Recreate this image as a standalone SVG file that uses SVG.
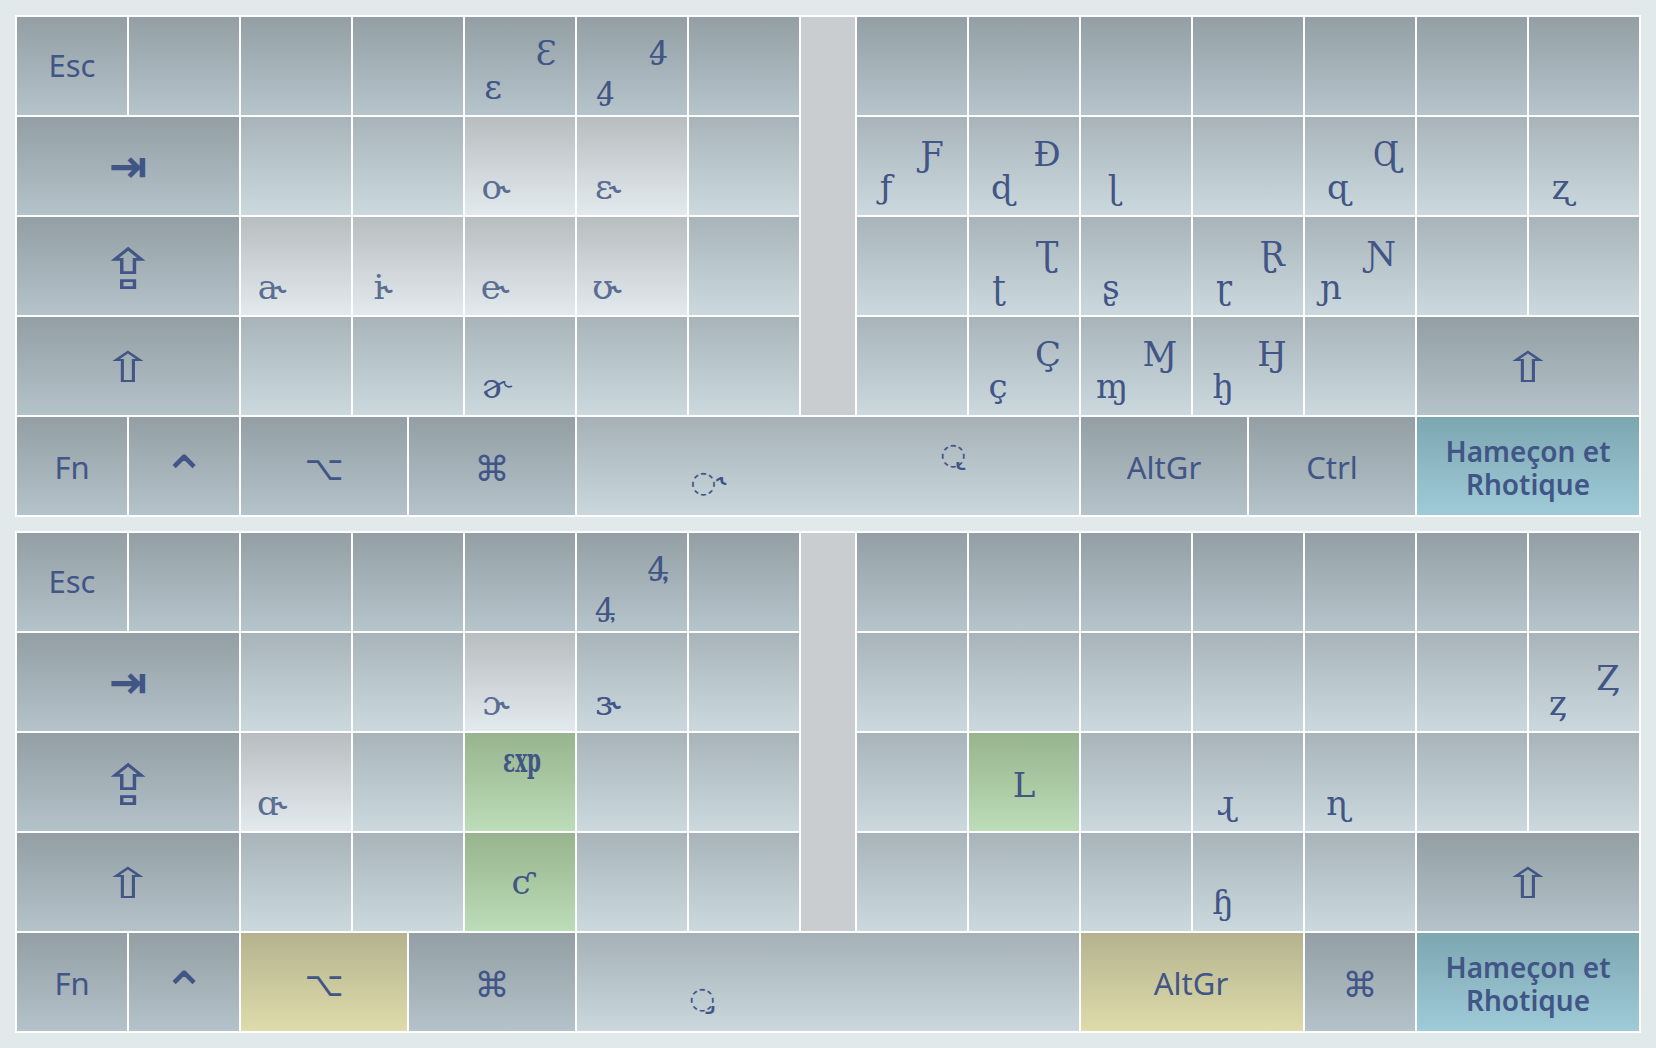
<svg xmlns="http://www.w3.org/2000/svg" width="1656" height="1048" viewBox="0 0 1656 1048">
<defs>
<linearGradient id="gMod" x1="0" y1="0" x2="0" y2="1"><stop offset="0" stop-color="#939fa5"/><stop offset="1" stop-color="#b4c2c9"/></linearGradient>
<linearGradient id="gRow1" x1="0" y1="0" x2="0" y2="1"><stop offset="0" stop-color="#939fa5"/><stop offset="1" stop-color="#b6c4cb"/></linearGradient>
<linearGradient id="gKey" x1="0" y1="0" x2="0" y2="1"><stop offset="0" stop-color="#a8b4b9"/><stop offset="1" stop-color="#cbd9df"/></linearGradient>
<linearGradient id="gLight" x1="0" y1="0" x2="0" y2="1"><stop offset="0" stop-color="#b8bdc0"/><stop offset="1" stop-color="#e3eaed"/></linearGradient>
<linearGradient id="gSpace" x1="0" y1="0" x2="0" y2="1"><stop offset="0" stop-color="#a5b1b6"/><stop offset="1" stop-color="#cad8de"/></linearGradient>
<linearGradient id="gGreen" x1="0" y1="0" x2="0" y2="1"><stop offset="0" stop-color="#97b48e"/><stop offset="1" stop-color="#bbddb7"/></linearGradient>
<linearGradient id="gYellow" x1="0" y1="0" x2="0" y2="1"><stop offset="0" stop-color="#b4b38e"/><stop offset="1" stop-color="#dedcab"/></linearGradient>
<linearGradient id="gTeal" x1="0" y1="0" x2="0" y2="1"><stop offset="0" stop-color="#7ca6b0"/><stop offset="1" stop-color="#9fcbd9"/></linearGradient>
<style>
.mod{fill:url(#gMod)} .r1{fill:url(#gRow1)} .key{fill:url(#gKey)} .lt{fill:url(#gLight)} .sp{fill:url(#gSpace)}
.gr{fill:url(#gGreen)} .ye{fill:url(#gYellow)} .te{fill:url(#gTeal)} .sep{fill:#c9cdcf}
.lbl{font-family:"Noto Sans","DejaVu Sans",sans-serif;font-size:31px;fill:#415586;text-anchor:middle}
.ham{font-family:"Noto Sans","DejaVu Sans",sans-serif;font-size:28px;font-weight:600;fill:#415586;text-anchor:middle}
.sym{font-family:"DejaVu Sans","Noto Sans",sans-serif;fill:#415586;text-anchor:middle}
.ipa{font-family:"DejaVu Serif","DejaVu Sans","Noto Sans",serif;font-size:34px;fill:#415586;text-anchor:middle}
.rh{fill:#5a6d93}
.hk{font-family:"Noto Sans","DejaVu Sans",sans-serif}
.dc{font-family:"DejaVu Sans","Noto Sans",sans-serif;font-size:30px;fill:#415586;text-anchor:middle}
</style>
</defs>
<rect x="0" y="0" width="1656" height="1048" fill="#e1e9eb"/>

<!-- ===== TOP KEYBOARD ===== -->
<g id="top-keyboard">
<rect x="15" y="15" width="1626" height="502" fill="#ffffff"/>
<rect id="t-separator" class="sep" x="801" y="17" width="54" height="398"/>
<!-- row 1 -->
<g id="t-esc"><rect class="mod" x="17" y="17" width="110" height="98"/><text class="lbl" x="72" y="77">Esc</text></g>
<g id="t-r1-1"><rect class="r1" x="129" y="17" width="110" height="98"/></g>
<g id="t-r1-2"><rect class="r1" x="241" y="17" width="110" height="98"/></g>
<g id="t-r1-3"><rect class="r1" x="353" y="17" width="110" height="98"/></g>
<g id="t-r1-4"><rect class="r1" x="465" y="17" width="110" height="98"/><text class="ipa" x="493" y="99">ɛ</text><text class="ipa" x="546" y="65">Ɛ</text></g>
<g id="t-r1-5"><rect class="r1" x="577" y="17" width="110" height="98"/><text class="ipa" x="605" y="99">ꜭ</text><text class="ipa" x="658" y="65">Ꜭ</text></g>
<g id="t-r1-6"><rect class="r1" x="689" y="17" width="110" height="98"/></g>
<g id="t-r1-r0"><rect class="r1" x="857" y="17" width="110" height="98"/></g>
<g id="t-r1-r1"><rect class="r1" x="969" y="17" width="110" height="98"/></g>
<g id="t-r1-r2"><rect class="r1" x="1081" y="17" width="110" height="98"/></g>
<g id="t-r1-r3"><rect class="r1" x="1193" y="17" width="110" height="98"/></g>
<g id="t-r1-r4"><rect class="r1" x="1305" y="17" width="110" height="98"/></g>
<g id="t-r1-r5"><rect class="r1" x="1417" y="17" width="110" height="98"/></g>
<g id="t-r1-r6"><rect class="r1" x="1529" y="17" width="110" height="98"/></g>
<!-- row 2 -->
<g id="t-tab"><rect class="mod" x="17" y="117" width="222" height="98"/><text class="sym" x="128" y="182" font-size="46" font-weight="bold">⇥</text></g>
<g id="t-r2-2"><rect class="key" x="241" y="117" width="110" height="98"/></g>
<g id="t-r2-3"><rect class="key" x="353" y="117" width="110" height="98"/></g>
<g id="t-r2-4"><rect class="lt" x="465" y="117" width="110" height="98"/><text class="ipa rh" x="496" y="199">o<tspan class="hk">˞</tspan></text></g>
<g id="t-r2-5"><rect class="lt" x="577" y="117" width="110" height="98"/><text class="ipa rh" x="608" y="199">ɛ<tspan class="hk">˞</tspan></text></g>
<g id="t-r2-6"><rect class="key" x="689" y="117" width="110" height="98"/></g>
<g id="t-r2-r0"><rect class="key" x="857" y="117" width="110" height="98"/><text class="ipa" x="886" y="199">ƒ</text><text class="ipa" x="932" y="166">Ƒ</text></g>
<g id="t-r2-r1"><rect class="key" x="969" y="117" width="110" height="98"/><text class="ipa" x="1002" y="199">ɖ</text><text class="ipa" x="1047" y="166">Ɖ</text></g>
<g id="t-r2-r2"><rect class="key" x="1081" y="117" width="110" height="98"/><text class="ipa" x="1114" y="199">ɭ</text></g>
<g id="t-r2-r3"><rect class="key" x="1193" y="117" width="110" height="98"/></g>
<g id="t-r2-r4"><rect class="key" x="1305" y="117" width="110" height="98"/><text class="ipa" x="1338" y="199">ɋ</text><text class="ipa" x="1386" y="166">Ɋ</text></g>
<g id="t-r2-r5"><rect class="key" x="1417" y="117" width="110" height="98"/></g>
<g id="t-r2-r6"><rect class="key" x="1529" y="117" width="110" height="98"/><text class="ipa" x="1562" y="199">ʐ</text></g>
<!-- row 3 -->
<g id="t-caps"><rect class="mod" x="17" y="217" width="222" height="98"/><text class="sym" font-size="56" transform="translate(128,289) scale(1.25,1)">⇪</text></g>
<g id="t-r3-2"><rect class="lt" x="241" y="217" width="110" height="98"/><text class="ipa rh" x="272" y="299">a<tspan class="hk">˞</tspan></text></g>
<g id="t-r3-3"><rect class="lt" x="353" y="217" width="110" height="98"/><text class="ipa rh" x="383" y="299">i<tspan class="hk">˞</tspan></text></g>
<g id="t-r3-4"><rect class="lt" x="465" y="217" width="110" height="98"/><text class="ipa rh" x="495" y="299">e<tspan class="hk">˞</tspan></text></g>
<g id="t-r3-5"><rect class="lt" x="577" y="217" width="110" height="98"/><text class="ipa rh" x="607" y="299">ʊ<tspan class="hk">˞</tspan></text></g>
<g id="t-r3-6"><rect class="key" x="689" y="217" width="110" height="98"/></g>
<g id="t-r3-r0"><rect class="key" x="857" y="217" width="110" height="98"/></g>
<g id="t-r3-r1"><rect class="key" x="969" y="217" width="110" height="98"/><text class="ipa" x="999" y="299">ʈ</text><text class="ipa" x="1047" y="266">Ʈ</text></g>
<g id="t-r3-r2"><rect class="key" x="1081" y="217" width="110" height="98"/><text class="ipa" x="1111" y="299">ʂ</text></g>
<g id="t-r3-r3"><rect class="key" x="1193" y="217" width="110" height="98"/><text class="ipa" x="1224" y="299">ɽ</text><text class="ipa" x="1272" y="266">Ɽ</text></g>
<g id="t-r3-r4"><rect class="key" x="1305" y="217" width="110" height="98"/><text class="ipa" x="1331" y="299">ɲ</text><text class="ipa" x="1381" y="266">Ɲ</text></g>
<g id="t-r3-r5"><rect class="key" x="1417" y="217" width="110" height="98"/></g>
<g id="t-r3-r6"><rect class="key" x="1529" y="217" width="110" height="98"/></g>
<!-- row 4 -->
<g id="t-shift-l"><rect class="mod" x="17" y="317" width="222" height="98"/><text class="sym" font-size="42" transform="translate(128,382) scale(1.5,1)">⇧</text></g>
<g id="t-r4-2"><rect class="key" x="241" y="317" width="110" height="98"/></g>
<g id="t-r4-3"><rect class="key" x="353" y="317" width="110" height="98"/></g>
<g id="t-r4-4"><rect class="key" x="465" y="317" width="110" height="98"/><text class="ipa" x="496" y="398">ɚ</text></g>
<g id="t-r4-5"><rect class="key" x="577" y="317" width="110" height="98"/></g>
<g id="t-r4-6"><rect class="key" x="689" y="317" width="110" height="98"/></g>
<g id="t-r4-r0"><rect class="key" x="857" y="317" width="110" height="98"/></g>
<g id="t-r4-r1"><rect class="key" x="969" y="317" width="110" height="98"/><text class="ipa" x="998" y="398">ç</text><text class="ipa" x="1048" y="366">Ç</text></g>
<g id="t-r4-r2"><rect class="key" x="1081" y="317" width="110" height="98"/><text class="ipa" x="1112" y="398">ɱ</text><text class="ipa" x="1160" y="366">Ɱ</text></g>
<g id="t-r4-r3"><rect class="key" x="1193" y="317" width="110" height="98"/><text class="ipa" x="1223" y="398">ꜧ</text><text class="ipa" x="1272" y="366">Ꜧ</text></g>
<g id="t-r4-r4"><rect class="key" x="1305" y="317" width="110" height="98"/></g>
<g id="t-shift-r"><rect class="mod" x="1417" y="317" width="222" height="98"/><text class="sym" font-size="42" transform="translate(1528,382) scale(1.5,1)">⇧</text></g>
<!-- row 5 -->
<g id="t-fn"><rect class="mod" x="17" y="417" width="110" height="98"/><text class="lbl" x="72" y="479">Fn</text></g>
<g id="t-ctrl-sym"><rect class="mod" x="129" y="417" width="110" height="98"/><text class="sym" x="184" y="494" font-size="54">⌃</text></g>
<g id="t-opt"><rect class="mod" x="241" y="417" width="166" height="98"/><text class="sym" x="324" y="480" font-size="34">⌥</text></g>
<g id="t-cmd"><rect class="mod" x="409" y="417" width="166" height="98"/><text class="sym" x="492" y="481" font-size="35">⌘</text></g>
<g id="t-space"><rect class="sp" x="577" y="417" width="502" height="98"/><text class="dc" x="708" y="492">◌˞</text><text class="dc" x="953" y="464">◌̢</text></g>
<g id="t-altgr"><rect class="mod" x="1081" y="417" width="166" height="98"/><text class="lbl" x="1164" y="479">AltGr</text></g>
<g id="t-ctrl"><rect class="mod" x="1249" y="417" width="166" height="98"/><text class="lbl" x="1332" y="479">Ctrl</text></g>
<g id="t-hameçon"><rect class="te" x="1417" y="417" width="222" height="98"/><text class="ham"><tspan x="1528" y="462">Hameçon et</tspan><tspan x="1528" y="495">Rhotique</tspan></text></g>
</g>

<!-- ===== BOTTOM KEYBOARD ===== -->
<g id="bottom-keyboard">
<rect x="15" y="531" width="1626" height="502" fill="#ffffff"/>
<rect id="b-separator" class="sep" x="801" y="533" width="54" height="398"/>
<!-- row 1 -->
<g id="b-esc"><rect class="mod" x="17" y="533" width="110" height="98"/><text class="lbl" x="72" y="593">Esc</text></g>
<g id="b-r1-1"><rect class="r1" x="129" y="533" width="110" height="98"/></g>
<g id="b-r1-2"><rect class="r1" x="241" y="533" width="110" height="98"/></g>
<g id="b-r1-3"><rect class="r1" x="353" y="533" width="110" height="98"/></g>
<g id="b-r1-4"><rect class="r1" x="465" y="533" width="110" height="98"/></g>
<g id="b-r1-5"><rect class="r1" x="577" y="533" width="110" height="98"/><text class="ipa" x="605" y="615">ꜯ</text><text class="ipa" x="658" y="581">Ꜯ</text></g>
<g id="b-r1-6"><rect class="r1" x="689" y="533" width="110" height="98"/></g>
<g id="b-r1-r0"><rect class="r1" x="857" y="533" width="110" height="98"/></g>
<g id="b-r1-r1"><rect class="r1" x="969" y="533" width="110" height="98"/></g>
<g id="b-r1-r2"><rect class="r1" x="1081" y="533" width="110" height="98"/></g>
<g id="b-r1-r3"><rect class="r1" x="1193" y="533" width="110" height="98"/></g>
<g id="b-r1-r4"><rect class="r1" x="1305" y="533" width="110" height="98"/></g>
<g id="b-r1-r5"><rect class="r1" x="1417" y="533" width="110" height="98"/></g>
<g id="b-r1-r6"><rect class="r1" x="1529" y="533" width="110" height="98"/></g>
<!-- row 2 -->
<g id="b-tab"><rect class="mod" x="17" y="633" width="222" height="98"/><text class="sym" x="128" y="698" font-size="46" font-weight="bold">⇥</text></g>
<g id="b-r2-2"><rect class="key" x="241" y="633" width="110" height="98"/></g>
<g id="b-r2-3"><rect class="key" x="353" y="633" width="110" height="98"/></g>
<g id="b-r2-4"><rect class="lt" x="465" y="633" width="110" height="98"/><text class="ipa rh" x="496" y="715">ɔ<tspan class="hk">˞</tspan></text></g>
<g id="b-r2-5"><rect class="key" x="577" y="633" width="110" height="98"/><text class="ipa" x="608" y="715">ɜ<tspan class="hk">˞</tspan></text></g>
<g id="b-r2-6"><rect class="key" x="689" y="633" width="110" height="98"/></g>
<g id="b-r2-r0"><rect class="key" x="857" y="633" width="110" height="98"/></g>
<g id="b-r2-r1"><rect class="key" x="969" y="633" width="110" height="98"/></g>
<g id="b-r2-r2"><rect class="key" x="1081" y="633" width="110" height="98"/></g>
<g id="b-r2-r3"><rect class="key" x="1193" y="633" width="110" height="98"/></g>
<g id="b-r2-r4"><rect class="key" x="1305" y="633" width="110" height="98"/></g>
<g id="b-r2-r5"><rect class="key" x="1417" y="633" width="110" height="98"/></g>
<g id="b-r2-r6"><rect class="key" x="1529" y="633" width="110" height="98"/><text class="ipa" x="1558" y="715">ȥ</text><text class="ipa" x="1608" y="690">Ȥ</text></g>
<!-- row 3 -->
<g id="b-caps"><rect class="mod" x="17" y="733" width="222" height="98"/><text class="sym" font-size="56" transform="translate(128,805) scale(1.25,1)">⇪</text></g>
<g id="b-r3-2"><rect class="lt" x="241" y="733" width="110" height="98"/><text class="ipa rh" x="272" y="815">ɑ<tspan class="hk">˞</tspan></text></g>
<g id="b-r3-3"><rect class="key" x="353" y="733" width="110" height="98"/></g>
<g id="b-r3-4"><rect class="gr" x="465" y="733" width="110" height="98"/><text class="ipa" x="522" y="772" font-size="19" font-weight="bold" textLength="38" lengthAdjust="spacingAndGlyphs">εxp</text></g>
<g id="b-r3-5"><rect class="key" x="577" y="733" width="110" height="98"/></g>
<g id="b-r3-6"><rect class="key" x="689" y="733" width="110" height="98"/></g>
<g id="b-r3-r0"><rect class="key" x="857" y="733" width="110" height="98"/></g>
<g id="b-r3-r1"><rect class="gr" x="969" y="733" width="110" height="98"/><text class="ipa" x="1024" y="797" font-size="40">L</text></g>
<g id="b-r3-r2"><rect class="key" x="1081" y="733" width="110" height="98"/></g>
<g id="b-r3-r3"><rect class="key" x="1193" y="733" width="110" height="98"/><text class="ipa" x="1226" y="815">ɻ</text></g>
<g id="b-r3-r4"><rect class="key" x="1305" y="733" width="110" height="98"/><text class="ipa" x="1338" y="815">ɳ</text></g>
<g id="b-r3-r5"><rect class="key" x="1417" y="733" width="110" height="98"/></g>
<g id="b-r3-r6"><rect class="key" x="1529" y="733" width="110" height="98"/></g>
<!-- row 4 -->
<g id="b-shift-l"><rect class="mod" x="17" y="833" width="222" height="98"/><text class="sym" font-size="42" transform="translate(128,898) scale(1.5,1)">⇧</text></g>
<g id="b-r4-2"><rect class="key" x="241" y="833" width="110" height="98"/></g>
<g id="b-r4-3"><rect class="key" x="353" y="833" width="110" height="98"/></g>
<g id="b-r4-4"><rect class="gr" x="465" y="833" width="110" height="98"/><text class="ipa" x="521" y="894">ƈ</text></g>
<g id="b-r4-5"><rect class="key" x="577" y="833" width="110" height="98"/></g>
<g id="b-r4-6"><rect class="key" x="689" y="833" width="110" height="98"/></g>
<g id="b-r4-r0"><rect class="key" x="857" y="833" width="110" height="98"/></g>
<g id="b-r4-r1"><rect class="key" x="969" y="833" width="110" height="98"/></g>
<g id="b-r4-r2"><rect class="key" x="1081" y="833" width="110" height="98"/></g>
<g id="b-r4-r3"><rect class="key" x="1193" y="833" width="110" height="98"/><text class="ipa" x="1223" y="914">ɧ</text></g>
<g id="b-r4-r4"><rect class="key" x="1305" y="833" width="110" height="98"/></g>
<g id="b-shift-r"><rect class="mod" x="1417" y="833" width="222" height="98"/><text class="sym" font-size="42" transform="translate(1528,898) scale(1.5,1)">⇧</text></g>
<!-- row 5 -->
<g id="b-fn"><rect class="mod" x="17" y="933" width="110" height="98"/><text class="lbl" x="72" y="995">Fn</text></g>
<g id="b-ctrl-sym"><rect class="mod" x="129" y="933" width="110" height="98"/><text class="sym" x="184" y="1010" font-size="54">⌃</text></g>
<g id="b-opt"><rect class="ye" x="241" y="933" width="166" height="98"/><text class="sym" x="324" y="996" font-size="34">⌥</text></g>
<g id="b-cmd-l"><rect class="mod" x="409" y="933" width="166" height="98"/><text class="sym" x="492" y="997" font-size="35">⌘</text></g>
<g id="b-space"><rect class="sp" x="577" y="933" width="502" height="98"/><text class="dc" x="702" y="1008">◌̡</text></g>
<g id="b-altgr"><rect class="ye" x="1081" y="933" width="222" height="98"/><text class="lbl" x="1191" y="995">AltGr</text></g>
<g id="b-cmd-r"><rect class="mod" x="1305" y="933" width="110" height="98"/><text class="sym" x="1360" y="997" font-size="35">⌘</text></g>
<g id="b-hameçon"><rect class="te" x="1417" y="933" width="222" height="98"/><text class="ham"><tspan x="1528" y="978">Hameçon et</tspan><tspan x="1528" y="1011">Rhotique</tspan></text></g>
</g>
</svg>
